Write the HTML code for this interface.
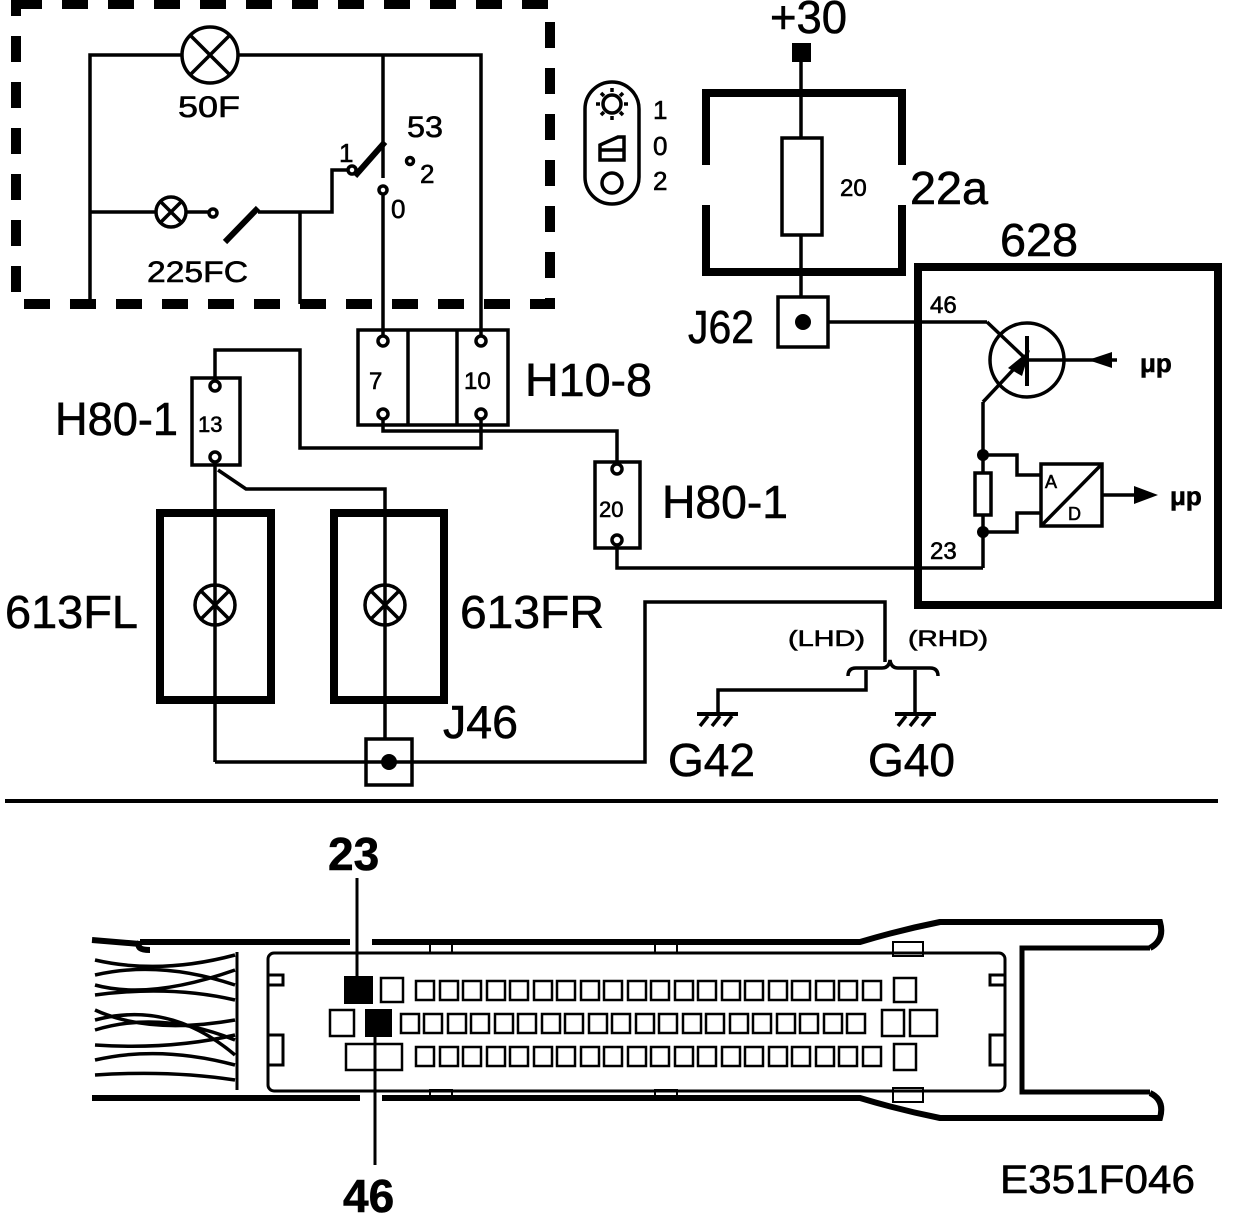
<!DOCTYPE html>
<html><head><meta charset="utf-8"><style>
html,body{margin:0;padding:0;background:#fff}
svg{display:block}
text{font-family:"Liberation Sans",Arial,sans-serif;fill:#000;stroke:#000;stroke-width:0.6}
</style></head><body>
<svg width="1248" height="1216" viewBox="0 0 1248 1216" xmlns="http://www.w3.org/2000/svg">
<g fill="none" stroke="#000" stroke-width="3.5">
<rect x="16" y="4" width="534" height="300" stroke-width="10" stroke-dasharray="26,20"/>
<polyline points="90,304 90,55 182,55"/>
<polyline points="238,55 481,55 481,335"/>
<circle cx="210" cy="55" r="28"/>
<line x1="190" y1="35" x2="230" y2="75"/><line x1="230" y1="35" x2="190" y2="75"/>
<line x1="383" y1="55" x2="383" y2="178"/>
<line x1="90" y1="212" x2="155" y2="212"/>
<circle cx="171" cy="212" r="15"/>
<line x1="160" y1="201" x2="182" y2="223"/><line x1="182" y1="201" x2="160" y2="223"/>
<line x1="186" y1="212" x2="208" y2="212"/>
<circle cx="213" cy="213" r="4"/>
<line x1="225" y1="242" x2="258" y2="208" stroke-width="6"/>
<polyline points="258,212 332,212 332,170 348,170"/>
<line x1="300" y1="212" x2="300" y2="304"/>
<circle cx="352" cy="170" r="4"/>
<line x1="355" y1="176" x2="385" y2="142" stroke-width="6"/>
<circle cx="410" cy="161" r="3.5"/>
<circle cx="383" cy="190" r="4"/>
<line x1="383" y1="194" x2="383" y2="335"/>
<rect x="358" y="330" width="150" height="95"/>
<line x1="408" y1="330" x2="408" y2="425"/><line x1="457" y1="330" x2="457" y2="425"/>
<circle cx="383" cy="341" r="5"/><circle cx="481" cy="341" r="5"/>
<circle cx="383" cy="414" r="5"/><circle cx="481" cy="414" r="5"/>
<polyline points="383,419 383,431 617,431 617,463"/>
<polyline points="481,419 481,448 300,448 300,350 215,350 215,380"/>
<rect x="192" y="378" width="48" height="87"/>
<circle cx="215" cy="386" r="5"/><circle cx="215" cy="457" r="5"/>
<line x1="215" y1="462" x2="215" y2="762"/>
<polyline points="218,470 246,489 385,489 385,740"/>
<rect x="595" y="462" width="45" height="86"/>
<circle cx="617" cy="469" r="5"/><circle cx="617" cy="540" r="5"/>
<polyline points="617,545 617,568 983,568"/>
<rect x="160" y="513" width="111" height="187" stroke-width="8"/>
<rect x="334" y="513" width="110" height="187" stroke-width="8"/>
<circle cx="215" cy="605" r="20"/>
<line x1="201" y1="591" x2="229" y2="619"/><line x1="229" y1="591" x2="201" y2="619"/>
<circle cx="385" cy="605" r="20"/>
<line x1="371" y1="591" x2="399" y2="619"/><line x1="399" y1="591" x2="371" y2="619"/>
<rect x="366" y="739" width="46" height="46"/>
<polyline points="215,762 645,762 645,602 885,602 885,662"/>
<path d="M848,676 Q848,668 856,668 L882,668 Q889,668 890,660 Q891,668 898,668 L930,668 Q938,668 938,676"/>
<polyline points="866,670 866,690 718,690 718,712"/>
<line x1="915" y1="670" x2="915" y2="712"/>
<line x1="697" y1="714" x2="738" y2="714" stroke-width="4"/>
<line x1="700" y1="726" x2="708" y2="716"/><line x1="712" y1="726" x2="720" y2="716"/><line x1="724" y1="726" x2="732" y2="716"/>
<line x1="895" y1="714" x2="936" y2="714" stroke-width="4"/>
<line x1="898" y1="726" x2="906" y2="716"/><line x1="910" y1="726" x2="918" y2="716"/><line x1="922" y1="726" x2="930" y2="716"/>
<rect x="585" y="82" width="54" height="122" rx="27"/>
<circle cx="612" cy="104" r="9"/>
<line x1="612" y1="88" x2="612" y2="92"/><line x1="612" y1="116" x2="612" y2="120"/>
<line x1="596" y1="104" x2="600" y2="104"/><line x1="624" y1="104" x2="628" y2="104"/>
<line x1="601" y1="93" x2="604" y2="96"/><line x1="620" y1="112" x2="623" y2="115"/>
<line x1="623" y1="93" x2="620" y2="96"/><line x1="601" y1="115" x2="604" y2="112"/>
<path d="M600,160 L600,145 L618,137 L624,137 L624,160 Z M600,150 L624,150"/>
<circle cx="612" cy="183" r="10"/>
<polyline points="706,165 706,93 902,93 902,165" stroke-width="8"/>
<polyline points="706,205 706,272 902,272 902,205" stroke-width="8"/>
<line x1="801" y1="55" x2="801" y2="298"/>
<rect x="782" y="138" width="40" height="97" fill="#fff"/>
<rect x="778" y="297" width="50" height="50"/>
<line x1="828" y1="322" x2="987" y2="322"/>
<rect x="918" y="267" width="300" height="338" stroke-width="8"/>
<line x1="987" y1="322" x2="1027" y2="360"/>
<circle cx="1027" cy="360" r="37"/>
<line x1="1027" y1="336" x2="1027" y2="386" stroke-width="4"/>
<line x1="1027" y1="360" x2="1117" y2="360"/>
<line x1="1027" y1="355" x2="983" y2="402"/>
<polyline points="983,402 983,568"/>
<rect x="975" y="473" width="16" height="42" fill="#fff"/>
<polyline points="983,455 1017,455 1017,475 1042,475"/>
<polyline points="983,532 1017,532 1017,513 1042,513"/>
<rect x="1041" y="464" width="61" height="62"/>
<line x1="1041" y1="526" x2="1102" y2="464"/>
<line x1="1102" y1="495" x2="1140" y2="495"/>
<line x1="5" y1="801" x2="1218" y2="801" stroke-width="4"/>
</g>
<g fill="#000">
<circle cx="389" cy="762" r="8"/>
<circle cx="803" cy="322" r="8"/>
<rect x="792" y="43" width="19" height="19"/>
<polygon points="1088,360 1112,352 1112,368"/>
<polygon points="1030,350 1022,376 1008,368"/>
<polygon points="1158,495 1134,486 1134,504"/>
<circle cx="983" cy="455" r="6"/><circle cx="983" cy="532" r="6"/>
</g>
<g font-size="30">
<text x="178" y="117" textLength="62" lengthAdjust="spacingAndGlyphs">50F</text>
<text x="147" y="282" textLength="101" lengthAdjust="spacingAndGlyphs">225FC</text>
<text x="407" y="137" textLength="36" lengthAdjust="spacingAndGlyphs">53</text>
<text x="339" y="162" font-size="26">1</text>
<text x="420" y="183" font-size="26">2</text>
<text x="391" y="218" font-size="26">0</text>
<text x="653" y="119" font-size="26">1</text>
<text x="653" y="155" font-size="26">0</text>
<text x="653" y="190" font-size="26">2</text>
<text x="369" y="389" font-size="24">7</text>
<text x="464" y="389" font-size="24">10</text>
<text x="198" y="432" font-size="22">13</text>
<text x="599" y="517" font-size="22">20</text>
<text x="840" y="196" font-size="24">20</text>
<text x="930" y="313" font-size="24">46</text>
<text x="930" y="559" font-size="24">23</text>
<text x="1140" y="372" font-size="26" font-weight="bold">μp</text>
<text x="1170" y="505" font-size="26" font-weight="bold">μp</text>
<text x="1045" y="488" font-size="18">A</text>
<text x="1068" y="520" font-size="18">D</text>
<text x="788" y="646" font-size="22" textLength="77" lengthAdjust="spacingAndGlyphs">(LHD)</text>
<text x="908" y="646" font-size="22" textLength="80" lengthAdjust="spacingAndGlyphs">(RHD)</text>
</g>
<g font-size="46">
<text x="525" y="396" textLength="127" lengthAdjust="spacingAndGlyphs">H10-8</text>
<text x="55" y="435" textLength="123" lengthAdjust="spacingAndGlyphs">H80-1</text>
<text x="662" y="518" textLength="126" lengthAdjust="spacingAndGlyphs">H80-1</text>
<text x="5" y="628" textLength="133" lengthAdjust="spacingAndGlyphs">613FL</text>
<text x="460" y="628" textLength="144" lengthAdjust="spacingAndGlyphs">613FR</text>
<text x="443" y="738" textLength="75" lengthAdjust="spacingAndGlyphs">J46</text>
<text x="668" y="776" textLength="87" lengthAdjust="spacingAndGlyphs">G42</text>
<text x="868" y="776" textLength="87" lengthAdjust="spacingAndGlyphs">G40</text>
<text x="688" y="343" textLength="66" lengthAdjust="spacingAndGlyphs">J62</text>
<text x="910" y="204" textLength="78" lengthAdjust="spacingAndGlyphs">22a</text>
<text x="1000" y="256" textLength="78" lengthAdjust="spacingAndGlyphs">628</text>
<text x="770" y="33" textLength="77" lengthAdjust="spacingAndGlyphs">+30</text>
<text x="1000" y="1193" font-size="40" textLength="195" lengthAdjust="spacingAndGlyphs">E351F046</text>
<text x="328" y="870" font-weight="bold" font-size="46">23</text>
<text x="343" y="1212" font-weight="bold" font-size="46">46</text>
</g>
<g fill="none" stroke="#000">
<path d="M140,942 L350,942 M372,942 L860,942 Q900,930 940,922 L1160,922 Q1165,940 1150,948 M140,942 Q135,950 150,950" stroke-width="6"/>
<path d="M140,1098 L360,1098 M382,1098 L860,1098 Q900,1110 940,1118 L1160,1118 Q1165,1100 1150,1093" stroke-width="6"/>
<path d="M92,940 L140,944 M92,1098 L140,1098" stroke-width="6"/>
<path d="M1150,948 L1022,948 L1022,1092 L1150,1092" stroke-width="5"/>
<rect x="268" y="953" width="737" height="138" rx="6" stroke-width="3"/>
<path d="M95,960 Q160,975 235,955 M95,975 Q160,960 235,985 M95,995 Q170,985 235,1000 M95,1010 Q150,1035 235,1020 M95,1030 Q160,1010 235,1040 M95,1045 Q170,1050 235,1035 M95,1060 Q160,1045 235,1065 M95,1075 Q170,1070 235,1080 M95,985 Q150,1000 235,970 M95,1020 Q170,1000 235,1055" stroke-width="3.5"/>
<line x1="237" y1="952" x2="237" y2="1090" stroke-width="3"/>
<rect x="430" y="942" width="22" height="11" stroke-width="2"/>
<rect x="655" y="942" width="22" height="11" stroke-width="2"/>
<rect x="893" y="942" width="30" height="14" stroke-width="2"/>
<rect x="430" y="1090" width="22" height="10" stroke-width="2"/>
<rect x="655" y="1090" width="22" height="10" stroke-width="2"/>
<rect x="893" y="1088" width="30" height="14" stroke-width="2"/>
<path d="M268,975 h15 v10 h-15 M268,1035 h15 v30 h-15 M1005,975 h-15 v10 h15 M1005,1035 h-15 v30 h15" stroke-width="3"/>
<g stroke-width="2.5">
<rect x="381" y="978" width="22" height="24"/>
<rect x="894" y="978" width="22" height="24"/>
<rect x="330" y="1010" width="24" height="26"/>
<rect x="882" y="1010" width="22" height="26"/><rect x="910" y="1010" width="27" height="26"/>
<rect x="346" y="1044" width="56" height="26"/>
<rect x="894" y="1044" width="22" height="26"/>
</g>
</g>
<g fill="#000">
<rect x="344" y="976" width="29" height="28"/>
<rect x="365" y="1009" width="27" height="28"/>
</g>
<g fill="none" stroke="#000" stroke-width="2.5">
<path d="M416,981 h18 v19 h-18z M440,981 h18 v19 h-18z M463,981 h18 v19 h-18z M487,981 h18 v19 h-18z M510,981 h18 v19 h-18z M534,981 h18 v19 h-18z M557,981 h18 v19 h-18z M581,981 h18 v19 h-18z M604,981 h18 v19 h-18z M628,981 h18 v19 h-18z M651,981 h18 v19 h-18z M675,981 h18 v19 h-18z M698,981 h18 v19 h-18z M722,981 h18 v19 h-18z M745,981 h18 v19 h-18z M769,981 h18 v19 h-18z M792,981 h18 v19 h-18z M816,981 h18 v19 h-18z M839,981 h18 v19 h-18z M863,981 h18 v19 h-18z"/>
<path d="M401,1014 h18 v19 h-18z M424,1014 h18 v19 h-18z M448,1014 h18 v19 h-18z M471,1014 h18 v19 h-18z M495,1014 h18 v19 h-18z M518,1014 h18 v19 h-18z M542,1014 h18 v19 h-18z M565,1014 h18 v19 h-18z M589,1014 h18 v19 h-18z M612,1014 h18 v19 h-18z M636,1014 h18 v19 h-18z M659,1014 h18 v19 h-18z M683,1014 h18 v19 h-18z M706,1014 h18 v19 h-18z M730,1014 h18 v19 h-18z M753,1014 h18 v19 h-18z M777,1014 h18 v19 h-18z M800,1014 h18 v19 h-18z M824,1014 h18 v19 h-18z M847,1014 h18 v19 h-18z"/>
<path d="M416,1047 h18 v19 h-18z M440,1047 h18 v19 h-18z M463,1047 h18 v19 h-18z M487,1047 h18 v19 h-18z M510,1047 h18 v19 h-18z M534,1047 h18 v19 h-18z M557,1047 h18 v19 h-18z M581,1047 h18 v19 h-18z M604,1047 h18 v19 h-18z M628,1047 h18 v19 h-18z M651,1047 h18 v19 h-18z M675,1047 h18 v19 h-18z M698,1047 h18 v19 h-18z M722,1047 h18 v19 h-18z M745,1047 h18 v19 h-18z M769,1047 h18 v19 h-18z M792,1047 h18 v19 h-18z M816,1047 h18 v19 h-18z M839,1047 h18 v19 h-18z M863,1047 h18 v19 h-18z"/>
<line x1="357" y1="878" x2="357" y2="976" stroke-width="3"/>
<line x1="375" y1="1037" x2="375" y2="1165" stroke-width="3"/>
</g>
</svg>
</body></html>
